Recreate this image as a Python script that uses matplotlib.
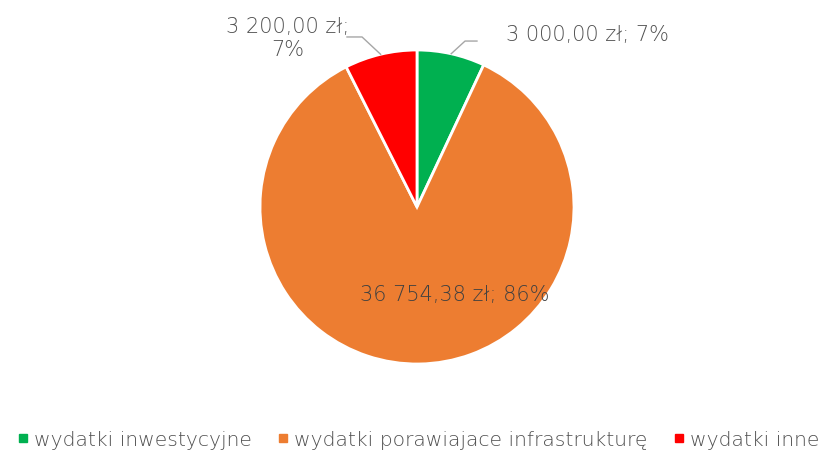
import matplotlib
matplotlib.use("Agg")
import matplotlib.pyplot as plt
import numpy as np
from matplotlib.lines import Line2D

categories = ["wydatki inwestycyjne", "wydatki porawiajace infrastrukturę", "wydatki inne"]
values = [3000.00, 36754.38, 3200.00]
value_labels = ["3 000,00 zł; 7%", "36 754,38 zł; 86%", "3 200,00 zł;\n7%"]
colors = ["#00B050", "#ED7D31", "#FF0000"]

plt.rcParams["font.family"] = ["DejaVu Sans"]
plt.rcParams["font.weight"] = "light"

W, H = 834, 455
fig = plt.figure(figsize=(W / 100, H / 100), dpi=100)
R = 157
cx, cy = 417, 207
ax = fig.add_axes([(cx - R) / W, (H - cy - R) / H, 2 * R / W, 2 * R / H])

wedges, _ = ax.pie(values, colors=colors, startangle=90, counterclock=False,
                   radius=1, wedgeprops=dict(edgecolor="white", linewidth=2))
ax.set_xlim(-1, 1)
ax.set_ylim(-1, 1)
ax.set_aspect("equal")
ax.axis("off")

txt_color = "#505050"
fs = 15

def edge_point(w):
    mid = np.deg2rad((w.theta1 + w.theta2) / 2)
    return np.cos(mid), np.sin(mid)

# green label
x0, y0 = edge_point(wedges[0])
ax.plot([x0, 0.306, 0.382], [y0, 1.057, 1.057], color="#A6A6A6", lw=1, clip_on=False)
ax.text(0.57, 1.096, value_labels[0], ha="left", va="center", fontsize=fs,
        color=txt_color, clip_on=False)

# red label
x2, y2 = edge_point(wedges[2])
ax.plot([x2, -0.35, -0.446], [y2, 1.083, 1.083], color="#A6A6A6", lw=1, clip_on=False)
ax.text(-0.822, 1.075, value_labels[2], ha="center", va="center", fontsize=fs,
        color=txt_color, clip_on=False, linespacing=1.2)

# orange label
ax.text(0.242, -0.56, value_labels[1], ha="center", va="center", fontsize=fs,
        color="#404040")

handles = [Line2D([0], [0], marker="s", linestyle="none", markersize=6,
                  markerfacecolor=c, markeredgecolor=c) for c in colors]
fig.legend(handles, categories, loc="center", bbox_to_anchor=(0.5, (H - 440) / H),
           ncol=3, frameon=False, fontsize=14.6, labelcolor=txt_color,
           handletextpad=0.15, columnspacing=1.15, handlelength=0.8,
           borderaxespad=0, borderpad=0)

fig.savefig("out.png", dpi=100)
